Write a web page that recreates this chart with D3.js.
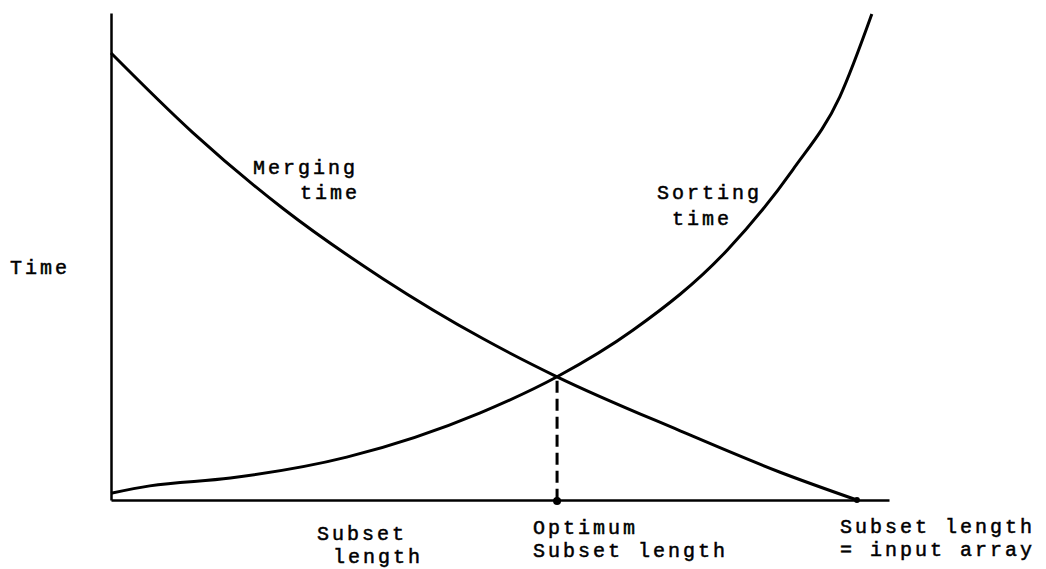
<!DOCTYPE html>
<html>
<head>
<meta charset="utf-8">
<script src="https://cdn.jsdelivr.net/npm/d3@7"></script>
<style>
  html, body { margin: 0; padding: 0; background: #fff; }
  svg { display: block; }
  text { font-family: "Courier New", "Liberation Mono", monospace; font-size: 20px; letter-spacing: 3px; fill: #000; stroke: #000; stroke-width: 0.5px; }
</style>
</head>
<body>
<svg id="chart" width="1046" height="569"></svg>
<script>
// Subset length (as % of input array) and time (arbitrary units)
const mergingX = [0, 11.0, 23.1, 36.5, 49.9, 59.8, 76.3, 89.7, 100];
const mergingY = [91.8, 75.4, 59.8, 45.4, 33.1, 25.3, 14.2, 5.7, 0];
const sortingX = [0, 5.2, 16.0, 31.6, 49.5, 59.8, 70.0, 82.6, 91.4, 97.7, 102.0];
const sortingY = [1.4, 2.9, 4.5, 8.8, 17.9, 25.3, 34.9, 51.3, 67.8, 82.8, 99.8];
const optimumX = 59.8;
const optimumY = 25.3;
const inputArrayX = 100;
const xMax = 104.3;
const yMax = 100;

const svg = d3.select("#chart");
const x = d3.scaleLinear().domain([0, xMax]).range([111, 889]);
const y = d3.scaleLinear().domain([0, yMax]).range([500, 13]);

// axes (no ticks)
svg.append("g").attr("transform", `translate(0,${y(0)})`)
  .call(d3.axisBottom(x).ticks(0).tickSizeOuter(0))
  .call(g => g.select(".domain").attr("stroke", "#000").attr("stroke-width", 2.5));
svg.append("g").attr("transform", `translate(${x(0)},0)`)
  .call(d3.axisLeft(y).ticks(0).tickSizeOuter(0))
  .call(g => g.select(".domain").attr("stroke", "#000").attr("stroke-width", 2.5));

const line = d3.line().x(d => x(d[0])).y(d => y(d[1])).curve(d3.curveMonotoneX);

const merging = mergingX.map((v, i) => [v, mergingY[i]]);
const sorting = sortingX.map((v, i) => [v, sortingY[i]]);

svg.append("path").datum(merging).attr("d", line)
  .attr("fill", "none").attr("stroke", "#000").attr("stroke-width", 3).attr("stroke-linejoin", "round");
svg.append("path").datum(sorting).attr("d", line)
  .attr("fill", "none").attr("stroke", "#000").attr("stroke-width", 3).attr("stroke-linejoin", "round");

// dashed optimum line
svg.append("line")
  .attr("x1", x(optimumX)).attr("x2", x(optimumX))
  .attr("y1", y(optimumY) + 4).attr("y2", y(0))
  .attr("stroke", "#000").attr("stroke-width", 3).attr("stroke-dasharray", "12,6");
svg.append("circle").attr("cx", x(optimumX)).attr("cy", y(0) + 1).attr("r", 4).attr("fill", "#000");
svg.append("circle").attr("cx", x(inputArrayX)).attr("cy", y(0)).attr("r", 3).attr("fill", "#000");

// labels
const labels = [
  { t: "Time", x: 10, y: 274 },
  { t: "Merging", x: 253, y: 174 },
  { t: "time", x: 300, y: 199 },
  { t: "Sorting", x: 657, y: 199 },
  { t: "time", x: 672, y: 225 },
  { t: "Subset", x: 317, y: 540 },
  { t: "length", x: 333, y: 563 },
  { t: "Optimum", x: 533, y: 534 },
  { t: "Subset length", x: 533, y: 557 },
  { t: "Subset length", x: 840, y: 533 },
  { t: "= input array", x: 840, y: 556 }
];
svg.selectAll("text.lbl").data(labels).enter().append("text")
  .attr("class", "lbl").attr("x", d => d.x).attr("y", d => d.y).text(d => d.t);
</script>
</body>
</html>
